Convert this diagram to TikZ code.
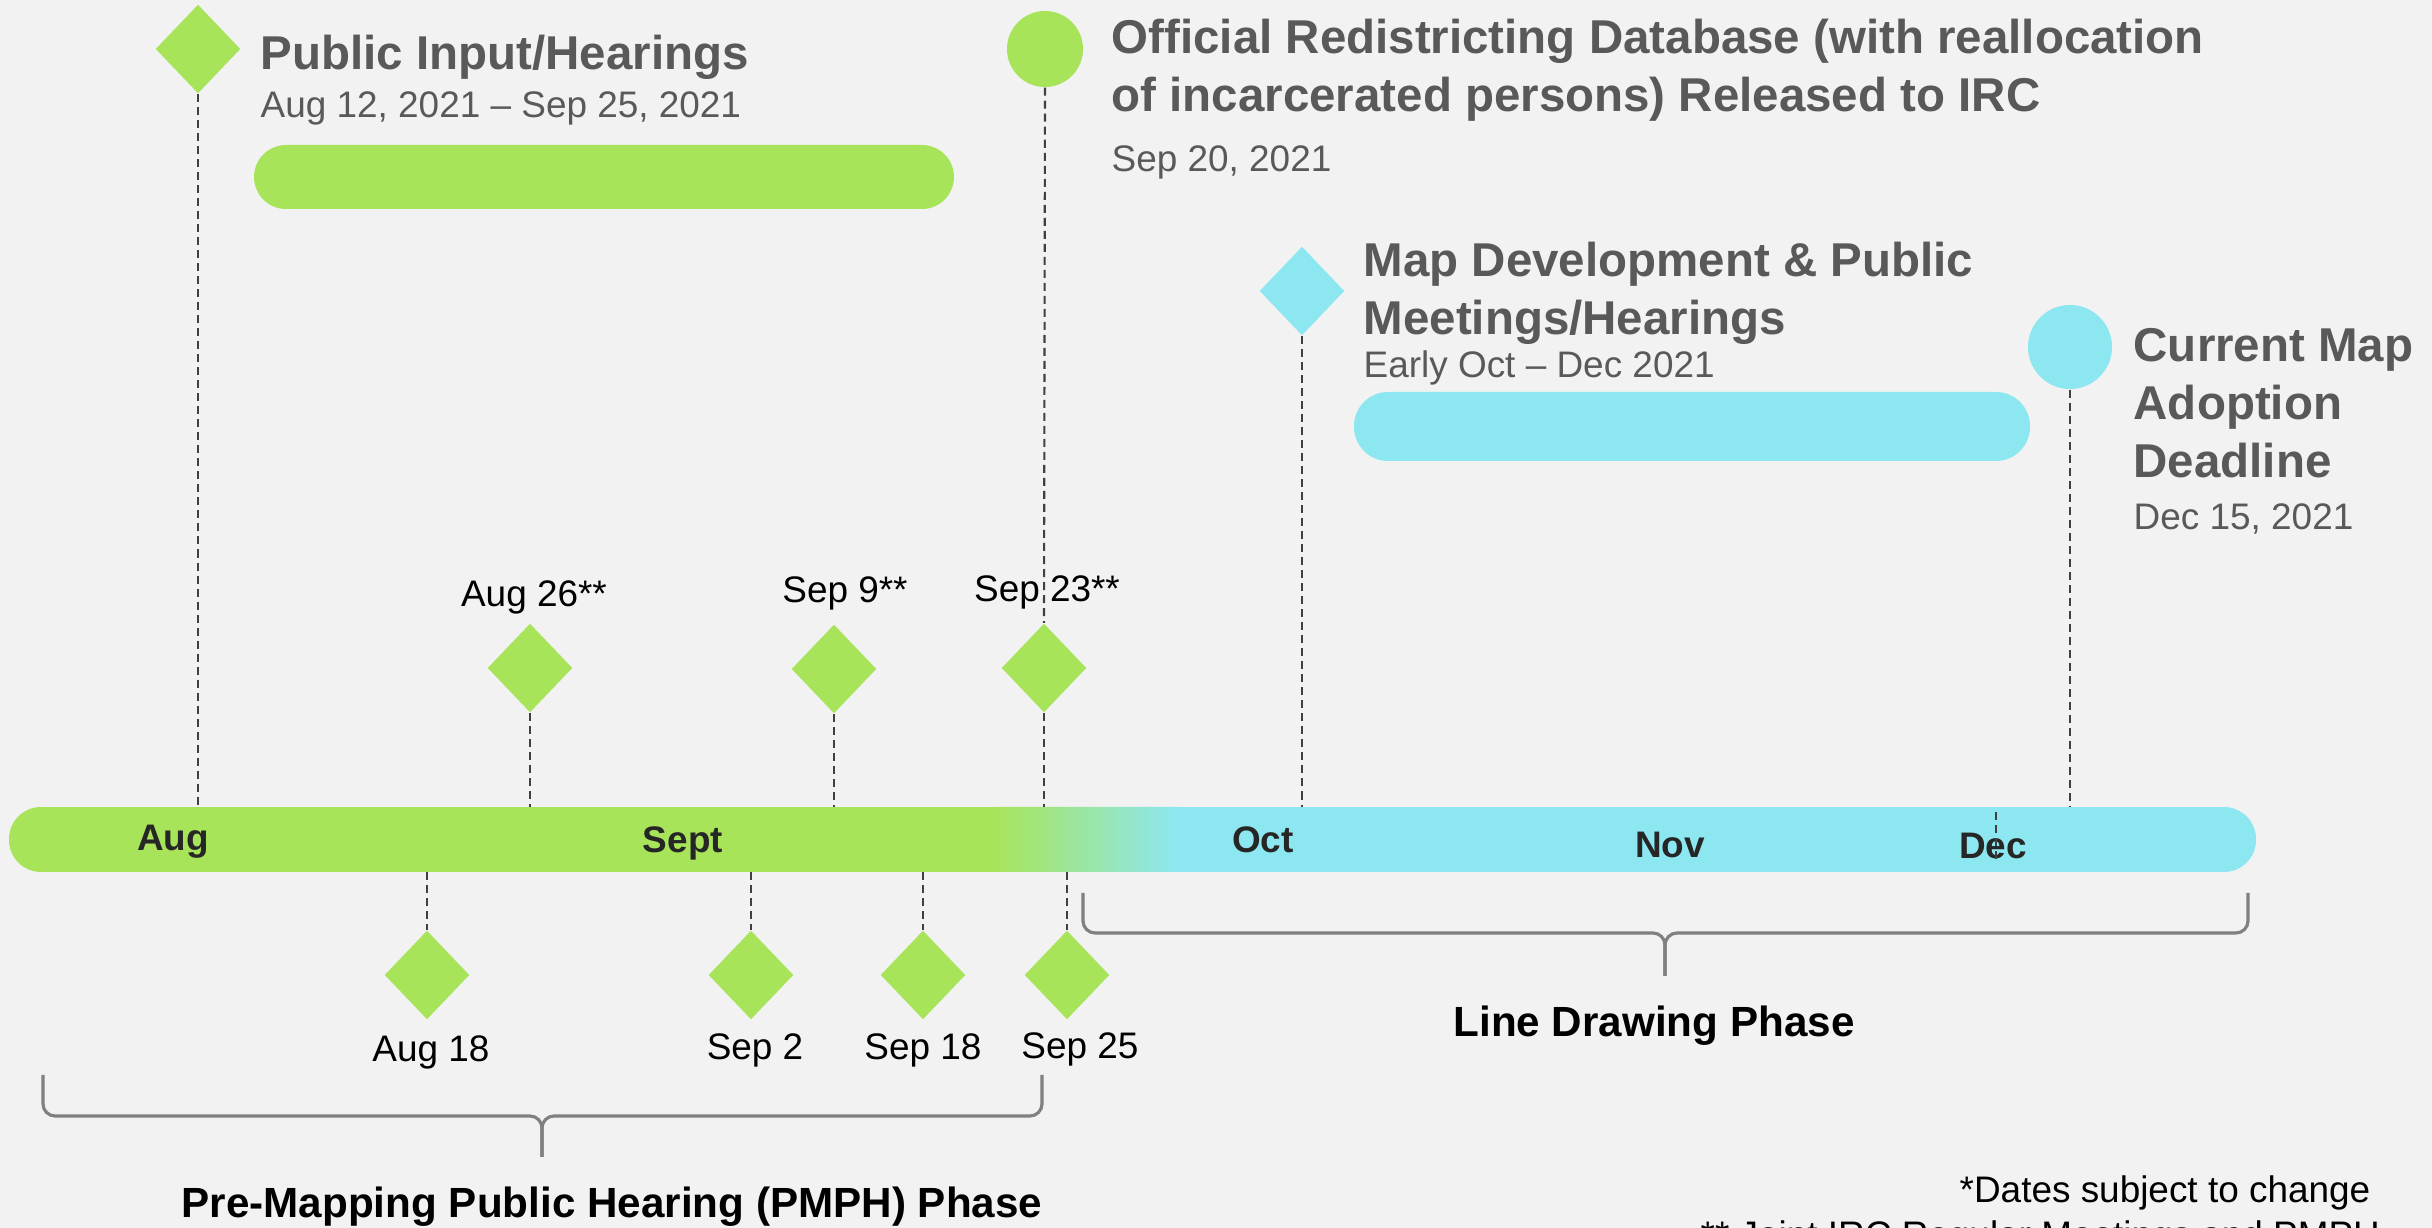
\documentclass[tikz,border=0pt]{standalone}
\usepackage{fontspec}
\setmainfont{Liberation Sans}
\usetikzlibrary{positioning}
\usetikzlibrary{shapes.geometric}

\definecolor{bgcol}{HTML}{F2F2F2}
\definecolor{lime}{HTML}{A8E45A}
\definecolor{aqua}{HTML}{8DE7F1}
\definecolor{titlegray}{HTML}{595959}
\definecolor{dashgray}{HTML}{404040}
\definecolor{bracegray}{HTML}{808080}

\begin{document}
\begin{tikzpicture}[x=0.01cm,y=-0.01cm,
  gdia/.style={diamond,fill=lime,inner sep=0,minimum width=0.85cm,minimum height=0.89cm},
  cdia/.style={gdia,fill=aqua},
  gdot/.style={circle,fill=lime,inner sep=0,minimum size=0.76cm},
  cdot/.style={circle,fill=aqua,inner sep=0,minimum size=0.84cm},
  headline/.style={font=\fontsize{13.5}{16.5}\selectfont\bfseries,text=titlegray,inner sep=0,anchor=base west,align=left},
  subline/.style={font=\fontsize{10.5}{12.6}\selectfont,text=titlegray,inner sep=0,anchor=base west},
  datelbl/.style={font=\fontsize{10.5}{12.6}\selectfont,inner sep=0,anchor=base},
  monthlbl/.style={font=\fontsize{10.5}{12.6}\selectfont\bfseries,text=black!85,inner sep=0,anchor=base},
  phaselbl/.style={font=\fontsize{12}{14.4}\selectfont\bfseries,inner sep=0,anchor=base},
  notelbl/.style={font=\fontsize{10.5}{12.6}\selectfont,inner sep=0,anchor=base west},
  dashline/.style={draw=dashgray,line width=0.6pt,dash pattern=on 0.08cm off 0.05cm},
  bracket/.style={draw=bracegray,line width=0.9pt,rounded corners=0.12cm}]
\fill[bgcol] (0,0) rectangle (2432,1228);
\useasboundingbox (0,0) rectangle (2432,1228);
% timeline bar
\coordinate (bartop) at (0,807);
\coordinate (barbot) at (0,872);
\begin{scope}
\clip[rounded corners=0.32cm] (9,807) rectangle (2256,872);
\fill[lime] (9,807) rectangle (996,872);
\shade[left color=lime,right color=aqua] (995,807) rectangle (1178,872);
\fill[aqua] (1177,807) rectangle (2256,872);
\end{scope}
\node[monthlbl] (aug) at (173,851) {Aug};
\node[monthlbl] (sept) at (683,853) {Sept};
\node[monthlbl] (oct) at (1263,853) {Oct};
\node[monthlbl] (nov) at (1670,858) {Nov};
\node[monthlbl] (dec) at (1993,859) {Dec};
\coordinate (dectick) at (1996,812);
\draw[dashline] (dectick) -- ++(0,50);
% milestones on top
\node[gdia] (pihdia) at (198,49) {};
\node[headline] (pihtitle) at (260,70) {Public Input/Hearings};
\node[subline] (pihdate) at (260,118) {Aug 12, 2021 \textendash\ Sep 25, 2021};
\fill[lime,rounded corners=0.32cm] (254,145) rectangle (954,209);
\node[gdot] (dbdot) at (1045,49) {};
\node[headline] (dbtitle) at (1111,112) {Official Redistricting Database (with reallocation\\of incarcerated persons) Released to IRC};
\node[subline] (dbdate) at (1111,172) {Sep 20, 2021};
\node[cdia] (mapdia) at (1302,291) {};
\node[headline] (maptitle) at (1363,335) {Map Development \& Public\\Meetings/Hearings};
\node[subline] (mapdate) at (1363,378) {Early Oct \textendash\ Dec 2021};
\fill[aqua,rounded corners=0.34cm] (1354,392) rectangle (2030,461);
\node[cdot] (adoptdot) at (2070,347) {};
\node[headline] (adopttitle) at (2133,478) {Current Map\\Adoption\\Deadline};
\node[subline] (adoptdate) at (2133,530) {Dec 15, 2021};
\foreach \m in {pihdia,mapdia,adoptdot}
  \draw[dashline] (\m.south) -- (\m.south |- bartop);
% meetings above the bar
\node[gdia] (aug26) at (530,668) {};
\node[gdia] (sep9) at (834,669) {};
\node[gdia] (sep23) at (1044,668) {};
\node[datelbl] (aug26lbl) at (534,607) {Aug 26**};
\node[datelbl] (sep9lbl) at (845,603) {Sep 9**};
\node[datelbl] (sep23lbl) at (1047,602) {Sep 23**};
\draw[dashline] (dbdot.south) -- (sep23.north);
\foreach \m in {aug26,sep9,sep23}
  \draw[dashline] (\m.south) -- (\m.south |- bartop);
% meetings below the bar
\node[gdia] (aug18) at (427,975) {};
\node[gdia] (sep2) at (751,975) {};
\node[gdia] (sep18) at (923,975) {};
\node[gdia] (sep25) at (1067,975) {};
\node[datelbl] (aug18lbl) at (431,1062) {Aug 18};
\node[datelbl] (sep2lbl) at (755,1060) {Sep 2};
\node[datelbl] (sep18lbl) at (923,1060) {Sep 18};
\node[datelbl] (sep25lbl) at (1080,1059) {Sep 25};
\foreach \m in {aug18,sep2,sep18,sep25}
  \draw[dashline] (\m.north |- barbot) -- (\m.north);
% phases
\draw[bracket] (43,1075) -- (43,1116) -- (542,1116) -- (542,1157);
\draw[bracket] (542,1157) -- (542,1116) -- (1042,1116) -- (1042,1075);
\node[phaselbl] (pmph) at (612,1218) {Pre-Mapping Public Hearing (PMPH) Phase};
\draw[bracket] (1083,893) -- (1083,933) -- (1665,933) -- (1665,976);
\draw[bracket] (1665,976) -- (1665,933) -- (2248,933) -- (2248,893);
\node[phaselbl] (linedraw) at (1654,1037) {Line Drawing Phase};
% notes
\node[notelbl] (note1) at (1959,1203) {*Dates subject to change};
\node[notelbl] (note2) at (1700,1248) {** Joint IRC Regular Meetings and PMPH};
\end{tikzpicture}
\end{document}
